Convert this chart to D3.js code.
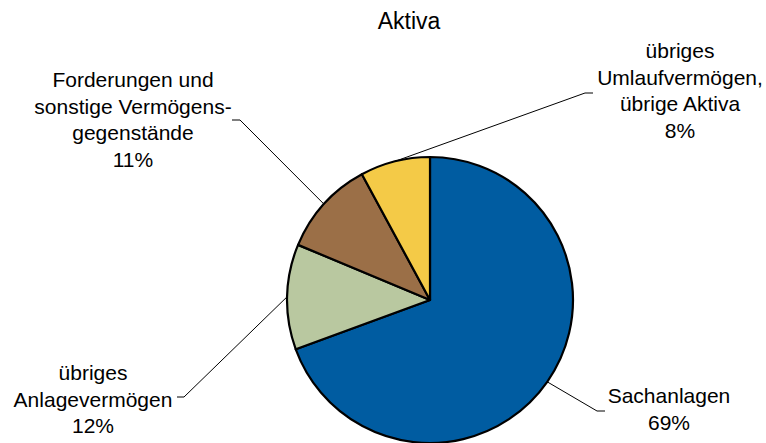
<!DOCTYPE html>
<html>
<head>
<meta charset="utf-8">
<script src="https://cdn.jsdelivr.net/npm/d3@7"></script>
<style>
  body { margin: 0; background: #fff; }
  svg { display: block; font-family: "Liberation Sans", Arial, sans-serif; }
</style>
</head>
<body>
<svg id="chart" width="766" height="443"></svg>
<script>
var title = "Aktiva";

// slices clockwise from 12 o'clock
var categories = [
  ["Sachanlagen"],
  ["übriges", "Anlagevermögen"],
  ["Forderungen und", "sonstige Vermögens-", "gegenstände"],
  ["übriges", "Umlaufvermögen,", "übrige Aktiva"]
];
var values = [69.4, 11.9, 10.8, 7.9];
var colors = ["#005ca1", "#b9c8a0", "#9b6f47", "#f4ca47"];

var width = 766, height = 443;
var cx = 430, cy = 300, radius = 143;
var lineH = 26.5;

// label placement: text centre x, first baseline y, leader elbow points
var labelLayout = [
  { x: 669, y: 403, leader: [[605, 411], [597, 411]] },
  { x: 93, y: 380, leader: [[177, 397], [184, 397]] },
  { x: 133, y: 87, leader: [[232, 120], [240, 120]] },
  { x: 680, y: 58, leader: [[593, 93], [585, 93]] }
];

var svg = d3.select("#chart");

svg.append("text")
  .attr("x", 409)
  .attr("y", 29)
  .attr("text-anchor", "middle")
  .attr("font-size", 23)
  .attr("fill", "#000")
  .text(title);

var total = d3.sum(values);
var pie = d3.pie().sort(null).value(function (d) { return d; });
var arcs = pie(values);

var arc = d3.arc().innerRadius(0).outerRadius(radius);

var g = svg.append("g").attr("transform", "translate(" + cx + "," + cy + ")");

g.selectAll("path.slice")
  .data(arcs)
  .enter()
  .append("path")
  .attr("class", "slice")
  .attr("d", arc)
  .attr("fill", function (d, i) { return colors[i]; })
  .attr("stroke", "#000")
  .attr("stroke-width", 2.2)
  .attr("stroke-linejoin", "round");

// leader lines
arcs.forEach(function (d, i) {
  var a = (d.startAngle + d.endAngle) / 2;
  var px = cx + radius * Math.sin(a);
  var py = cy - radius * Math.cos(a);
  var pts = labelLayout[i].leader.concat([[px, py]]);
  svg.append("path")
    .attr("d", d3.line()(pts))
    .attr("fill", "none")
    .attr("stroke", "#000")
    .attr("stroke-width", 1);
});

// labels
arcs.forEach(function (d, i) {
  var lay = labelLayout[i];
  var lines = categories[i].concat([Math.round(d.value / total * 100) + "%"]);
  var t = svg.append("text")
    .attr("text-anchor", "middle")
    .attr("font-size", 21)
    .attr("fill", "#000");
  lines.forEach(function (s, j) {
    t.append("tspan")
      .attr("x", lay.x)
      .attr("y", lay.y + j * lineH)
      .text(s);
  });
});
</script>
</body>
</html>
